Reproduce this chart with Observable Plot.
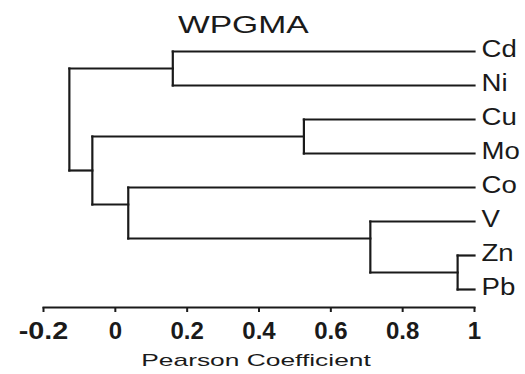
<!DOCTYPE html>
<html>
<head>
<meta charset="utf-8">
<script src="https://cdn.jsdelivr.net/npm/d3@7"></script>
<script src="https://cdn.jsdelivr.net/npm/@observablehq/plot@0.6"></script>
<style>
  html, body { margin: 0; padding: 0; background: #fff; }
  #wrap { position: relative; width: 525px; height: 374px; font-family: "Liberation Sans", Arial, sans-serif; }
  #title { position: absolute; left: 178px; top: 13px; font-size: 24px; line-height: 24px; color: #1a1a1a;
           transform: scaleX(1.4); transform-origin: left top; white-space: nowrap; }
</style>
</head>
<body>
<div id="wrap"><div id="title"></div></div>
<script>
// ---- data ----
const titleText = "WPGMA";
const xLabel = "Pearson Coefficient";
const leaves = ["Cd", "Ni", "Cu", "Mo", "Co", "V", "Zn", "Pb"];
const leafHeight = 1;
const nodeIds = ["n1", "n2", "n3", "n4", "n5", "n6", "n7"];
const nodeLeft = ["Cd", "Cu", "Zn", "V", "Co", "n2", "n1"];
const nodeRight = ["Ni", "Mo", "Pb", "n3", "n4", "n5", "n6"];
const nodeHeight = [0.16, 0.525, 0.953, 0.71, 0.036, -0.064, -0.128];
const nodeRow = [0.5, 2.5, 6.5, 5.5, 4.5, 3.5, 2.0];
const xTicks = [-0.2, 0, 0.2, 0.4, 0.6, 0.8, 1];

// ---- build segments ----
const pos = new Map(leaves.map((d, i) => [d, {x: leafHeight, y: i}]));
nodeIds.forEach((id, i) => pos.set(id, {x: nodeHeight[i], y: nodeRow[i]}));
const segs = [];
nodeIds.forEach((id, i) => {
  const a = pos.get(nodeLeft[i]), b = pos.get(nodeRight[i]), h = nodeHeight[i];
  segs.push({x1: h, y1: a.y, x2: h, y2: b.y});
  segs.push({x1: h, y1: a.y, x2: a.x, y2: a.y});
  segs.push({x1: h, y1: b.y, x2: b.x, y2: b.y});
});

document.getElementById("title").textContent = titleText;

const chart = Plot.plot({
  width: 525,
  height: 374,
  marginTop: 40,
  marginBottom: 67,
  marginLeft: 43,
  marginRight: 51,
  style: {fontFamily: '"Liberation Sans", Arial, sans-serif', background: "transparent", color: "#1a1a1a"},
  x: {domain: [-0.2, 1]},
  y: {domain: [0, 7], range: [51, 289], axis: null},
  marks: [
    Plot.link(segs, {x1: "x1", y1: "y1", x2: "x2", y2: "y2", stroke: "#1a1a1a", strokeWidth: 2.2, strokeLinecap: "square"}),
    Plot.text(leaves, {x: () => leafHeight, y: (d, i) => i, text: d => d, textAnchor: "start", dx: 7, dy: -2, fontSize: 23}),
    Plot.axisX({ticks: xTicks, tickFormat: d => String(d), tickSize: 5, tickPadding: 9, fontSize: 24, fontWeight: "bold", strokeWidth: 2, label: null}),
    Plot.frame({anchor: "bottom", strokeWidth: 2, stroke: "#1a1a1a"}),
    Plot.text([xLabel], {frameAnchor: "bottom", lineAnchor: "top", dy: 46, dx: -3, fontSize: 17, text: d => d})
  ]
});
chart.style.position = "absolute";
chart.style.left = "0";
chart.style.top = "0";
document.getElementById("wrap").appendChild(chart);

function stretch(test, f) {
  d3.select(chart).selectAll("text").each(function() {
    if (!test(this.textContent)) return;
    const L = this.getComputedTextLength();
    if (L > 0) {
      this.setAttribute("textLength", (L * f).toFixed(1));
      this.setAttribute("lengthAdjust", "spacingAndGlyphs");
    }
  });
}
stretch(t => leaves.includes(t), 1.2);
stretch(t => t === xLabel, 1.55);
stretch(t => t === "-0.2", 1.2);
</script>
</body>
</html>
